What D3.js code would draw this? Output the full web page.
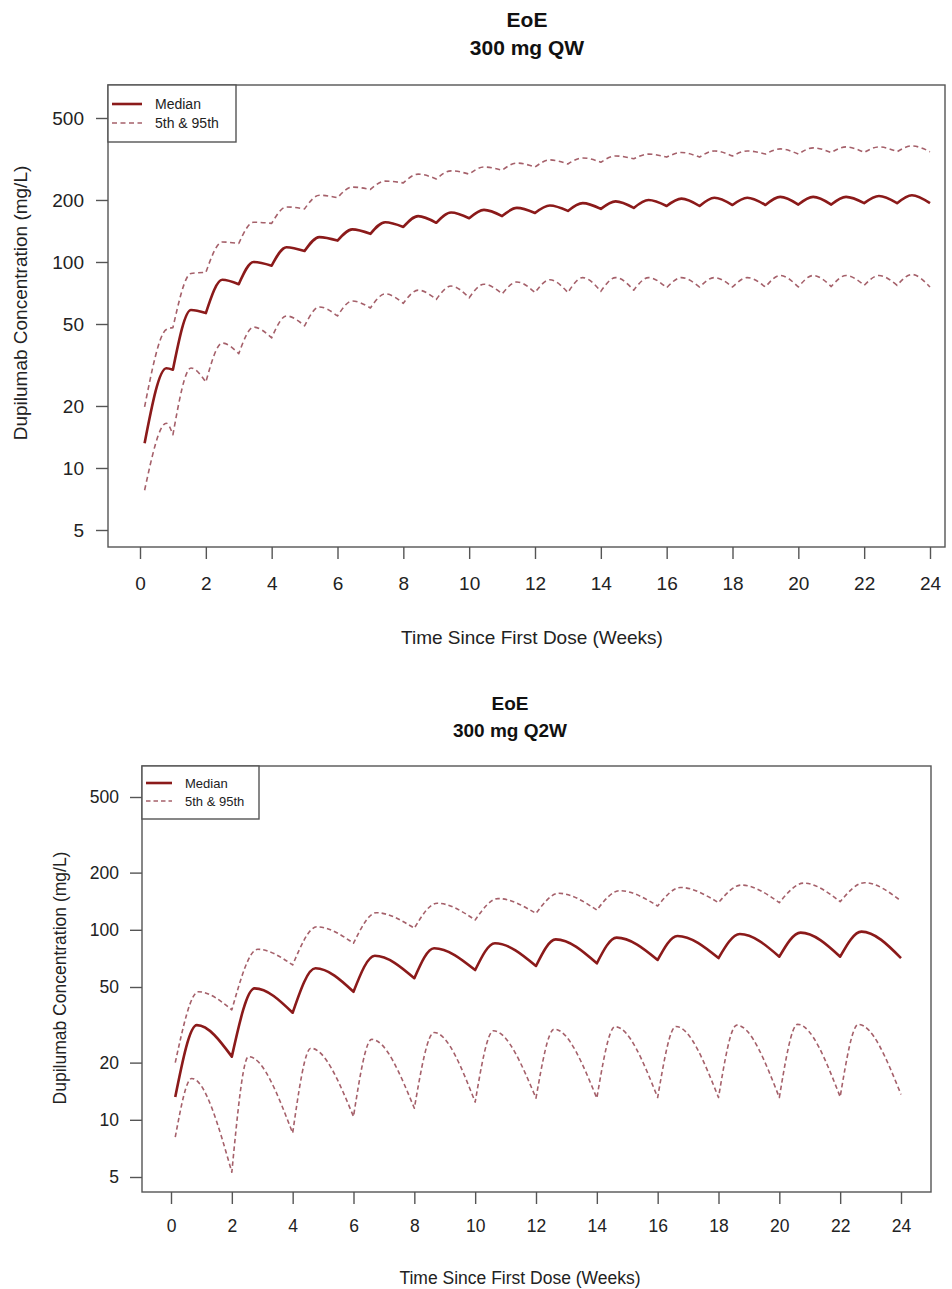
<!DOCTYPE html>
<html>
<head>
<meta charset="utf-8">
<script src="https://cdn.jsdelivr.net/npm/d3@7"></script>
<style>
  body { margin: 0; background: #fff; }
  text { font-family: "Liberation Sans", Arial, sans-serif; }
</style>
</head>
<body>
<div id="chart"></div>
<script>
// ---- data (concentrations in mg/L, time in weeks) ----
var weekTicks = [0, 2, 4, 6, 8, 10, 12, 14, 16, 18, 20, 22, 24];
var concTicks = [5, 10, 20, 50, 100, 200, 500];
var firstSampleWeek = 0.14;

// 300 mg QW : one trough per weekly dose, one peak in between
var qwTroughWeeks = [1, 2, 3, 4, 5, 6, 7, 8, 9, 10, 11, 12, 13, 14, 15, 16, 17, 18, 19, 20, 21, 22, 23, 24];
var qwPeakWeeks = [0.8, 1.55, 2.5, 3.45, 4.45, 5.45, 6.45, 7.45, 8.45, 9.45, 10.45, 11.45, 12.45, 13.45, 14.45, 15.45, 16.45, 17.45, 18.45, 19.45, 20.45, 21.45, 22.45, 23.45];
var qwStart = { median: 13.2, p95: 19.8, p5: 7.8 };
var qwMedianPeak = [30.5, 58.5, 82, 100, 118, 132, 144, 156, 167, 174, 179, 183, 188, 193, 197, 200, 203, 205, 205, 207, 207, 207, 209, 211];
var qwMedianTrough = [30, 56.5, 78, 96, 113, 127, 137, 148, 155, 163, 167, 173, 177, 181, 183, 187, 187, 189, 189, 190, 190, 193, 193, 193];
var qwP95Peak = [47, 88, 125, 156, 185, 211, 231, 247, 267, 277, 289, 302, 313, 320, 327, 334, 340, 346, 346, 354, 358, 362, 362, 366];
var qwP95Trough = [48, 89, 123, 154, 181, 205, 225, 242, 253, 267, 279, 289, 299, 305, 317, 323, 323, 327, 334, 334, 340, 340, 343, 343];
var qwP5Peak = [16.5, 30.6, 40.4, 48.3, 54.7, 60.5, 64.7, 70, 73, 76.4, 78, 80, 82, 84, 84, 84, 84, 84, 84, 86, 86, 86, 86, 87];
var qwP5Trough = [14.5, 26.1, 35.9, 42.8, 49, 54.7, 59.8, 63, 65.8, 67, 70, 71, 71, 72, 73, 75, 75.6, 75.6, 75.6, 75.6, 76, 77, 77, 75.6];

// 300 mg Q2W : one trough per dose every two weeks
var q2wTroughWeeks = [2, 4, 6, 8, 10, 12, 14, 16, 18, 20, 22, 24];
var q2wStart = { median: 13.2, p95: 20, p5: 8.1 };
var q2wMedianPeakWeeks = [0.85, 2.75, 4.75, 6.7, 8.65, 10.65, 12.65, 14.65, 16.65, 18.7, 20.7, 22.7];
var q2wMedianPeak = [31.5, 49.2, 62.7, 73, 80, 85, 89, 91, 92.8, 95, 96.6, 97.8];
var q2wMedianTrough = [21.5, 36.6, 47.2, 55.6, 61.4, 64.5, 66.6, 69.4, 71, 72.2, 72.2, 71];
var q2wP95PeakWeeks = [0.9, 2.85, 4.8, 6.75, 8.75, 10.75, 12.75, 14.75, 16.75, 18.75, 20.8, 22.8];
var q2wP95Peak = [47.2, 79, 103.7, 123, 138, 146, 155.6, 160.7, 167, 172, 176, 177];
var q2wP95Trough = [37.9, 65.3, 85, 102, 112.7, 122, 127, 133.4, 139, 139, 140.6, 142];
var q2wP5PeakWeeks = [0.68, 2.55, 4.6, 6.6, 8.65, 10.6, 12.6, 14.6, 16.6, 18.6, 20.6, 22.6];
var q2wP5Peak = [16.5, 21.5, 23.8, 26.5, 28.8, 29.4, 30, 30.9, 31, 31.5, 31.8, 31.8];
var q2wP5Trough = [5.3, 8.5, 10.4, 11.5, 12.4, 13, 13, 13.1, 13.1, 13.1, 13.2, 13.6];

var medianColor = "#8b1a1a";
var pctColor = "#a5606a";
var inkColor = "#222";
var boxColor = "#555";

var svg = d3.select("#chart")
  .append("svg")
    .attr("width", 952)
    .attr("height", 1289);

// one path through start -> peak -> trough for every dosing interval;
// each interval gets its own monotone curve so the troughs stay sharp
function dosingPath(x, y, startVal, peakWeeks, peaks, troughWeeks, troughs) {
  var line = d3.line()
    .x(function(d) { return x(d[0]); })
    .y(function(d) { return y(d[1]); })
    .curve(d3.curveMonotoneX);
  var prev = [firstSampleWeek, startVal];
  var d = "";
  for (var i = 0; i < peaks.length; i++) {
    var seg = line([prev, [peakWeeks[i], peaks[i]], [troughWeeks[i], troughs[i]]]);
    d += (i === 0) ? seg : "L" + seg.slice(1);
    prev = [troughWeeks[i], troughs[i]];
  }
  return d;
}

function drawPanel(p) {
  var x = d3.scaleLinear().domain([0, 24]).range(p.xRange);
  var y = d3.scaleLog().domain([5, 500]).range(p.yRange);

  // titles
  svg.append("text")
    .attr("x", p.titleX).attr("y", p.titleY)
    .attr("text-anchor", "middle")
    .style("font-size", p.titleSize + "px").style("font-weight", "bold").style("fill", "#111")
    .text("EoE");
  svg.append("text")
    .attr("x", p.titleX).attr("y", p.titleY + p.titleGap)
    .attr("text-anchor", "middle")
    .style("font-size", p.titleSize + "px").style("font-weight", "bold").style("fill", "#111")
    .text(p.subtitle);

  // y axis
  var yAxis = svg.append("g")
    .attr("transform", "translate(" + p.box.left + ",0)")
    .call(d3.axisLeft(y).tickValues(concTicks).tickFormat(d3.format("d")).tickSize(12).tickPadding(p.tickPad));
  // x axis
  var xAxis = svg.append("g")
    .attr("transform", "translate(0," + p.box.bottom + ")")
    .call(d3.axisBottom(x).tickValues(weekTicks).tickFormat(d3.format("d")).tickSize(12).tickPadding(p.xTickPad));

  [yAxis, xAxis].forEach(function(a) {
    a.select(".domain").remove();
    a.selectAll("line").style("stroke", boxColor).style("stroke-width", 1.4);
    a.selectAll("text")
      .style("font-family", '"Liberation Sans", Arial, sans-serif')
      .style("font-size", p.tickSize + "px")
      .style("fill", inkColor);
  });

  // axis titles
  svg.append("text")
    .attr("x", p.xTitleX).attr("y", p.xTitleY)
    .attr("text-anchor", "middle")
    .style("font-size", p.axisTitleSize + "px").style("fill", inkColor)
    .text("Time Since First Dose (Weeks)");
  svg.append("text")
    .attr("transform", "translate(" + p.yTitleX + "," + p.yTitleY + ")rotate(-90)")
    .attr("text-anchor", "middle")
    .style("font-size", p.axisTitleSize + "px").style("fill", inkColor)
    .text("Dupilumab Concentration (mg/L)");

  // curves
  p.series.forEach(function(s) {
    svg.append("path")
      .attr("d", dosingPath(x, y, s.start, s.peakWeeks, s.peaks, p.troughWeeks, s.troughs))
      .attr("fill", "none")
      .attr("stroke", s.median ? medianColor : pctColor)
      .attr("stroke-width", s.median ? 2.6 : 1.6)
      .attr("stroke-dasharray", s.median ? null : p.dash)
      .attr("stroke-linejoin", "round");
  });

  // plot box
  svg.append("rect")
    .attr("x", p.box.left).attr("y", p.box.top)
    .attr("width", p.box.right - p.box.left)
    .attr("height", p.box.bottom - p.box.top)
    .attr("fill", "none")
    .attr("stroke", boxColor)
    .attr("stroke-width", 1.4);

  // legend
  var lg = p.legend;
  svg.append("rect")
    .attr("x", p.box.left).attr("y", p.box.top)
    .attr("width", lg.width).attr("height", lg.height)
    .attr("fill", "#fff")
    .attr("stroke", boxColor)
    .attr("stroke-width", 1.4);
  var items = [
    { label: "Median", median: true },
    { label: "5th & 95th", median: false }
  ];
  items.forEach(function(it, i) {
    var ly = p.box.top + lg.firstRow + i * lg.rowGap;
    svg.append("line")
      .attr("x1", p.box.left + 4).attr("x2", p.box.left + lg.sample)
      .attr("y1", ly).attr("y2", ly)
      .attr("stroke", it.median ? medianColor : pctColor)
      .attr("stroke-width", it.median ? 2.6 : 1.6)
      .attr("stroke-dasharray", it.median ? null : p.dash);
    svg.append("text")
      .attr("x", p.box.left + lg.textX).attr("y", ly)
      .attr("dy", "0.35em")
      .style("font-size", lg.fontSize + "px").style("fill", inkColor)
      .text(it.label);
  });
}

// ---- top panel: 300 mg QW ----
drawPanel({
  subtitle: "300 mg QW",
  titleX: 527, titleY: 27, titleGap: 28, titleSize: 21,
  box: { left: 108, top: 85, right: 945, bottom: 547 },
  xRange: [140, 930], yRange: [530, 118],
  tickSize: 19, tickPad: 12, xTickPad: 18,
  axisTitleSize: 19,
  xTitleX: 532, xTitleY: 644,
  yTitleX: 27, yTitleY: 303,
  dash: "5,3.5",
  legend: { width: 128, height: 57, firstRow: 19, rowGap: 19, sample: 34, textX: 47, fontSize: 14 },
  troughWeeks: qwTroughWeeks,
  series: [
    { median: false, start: qwStart.p95, peakWeeks: qwPeakWeeks, peaks: qwP95Peak, troughs: qwP95Trough },
    { median: false, start: qwStart.p5, peakWeeks: qwPeakWeeks, peaks: qwP5Peak, troughs: qwP5Trough },
    { median: true, start: qwStart.median, peakWeeks: qwPeakWeeks, peaks: qwMedianPeak, troughs: qwMedianTrough }
  ]
});

// ---- bottom panel: 300 mg Q2W ----
drawPanel({
  subtitle: "300 mg Q2W",
  titleX: 510, titleY: 710, titleGap: 27, titleSize: 19,
  box: { left: 142, top: 766, right: 931, bottom: 1192 },
  xRange: [171, 901], yRange: [1177, 797],
  tickSize: 17.5, tickPad: 11, xTickPad: 16,
  axisTitleSize: 17.5,
  xTitleX: 520, xTitleY: 1284,
  yTitleX: 66, yTitleY: 978,
  dash: "4.5,3",
  legend: { width: 117, height: 53, firstRow: 17, rowGap: 18, sample: 30, textX: 43, fontSize: 13 },
  troughWeeks: q2wTroughWeeks,
  series: [
    { median: false, start: q2wStart.p95, peakWeeks: q2wP95PeakWeeks, peaks: q2wP95Peak, troughs: q2wP95Trough },
    { median: false, start: q2wStart.p5, peakWeeks: q2wP5PeakWeeks, peaks: q2wP5Peak, troughs: q2wP5Trough },
    { median: true, start: q2wStart.median, peakWeeks: q2wMedianPeakWeeks, peaks: q2wMedianPeak, troughs: q2wMedianTrough }
  ]
});
</script>
</body>
</html>
